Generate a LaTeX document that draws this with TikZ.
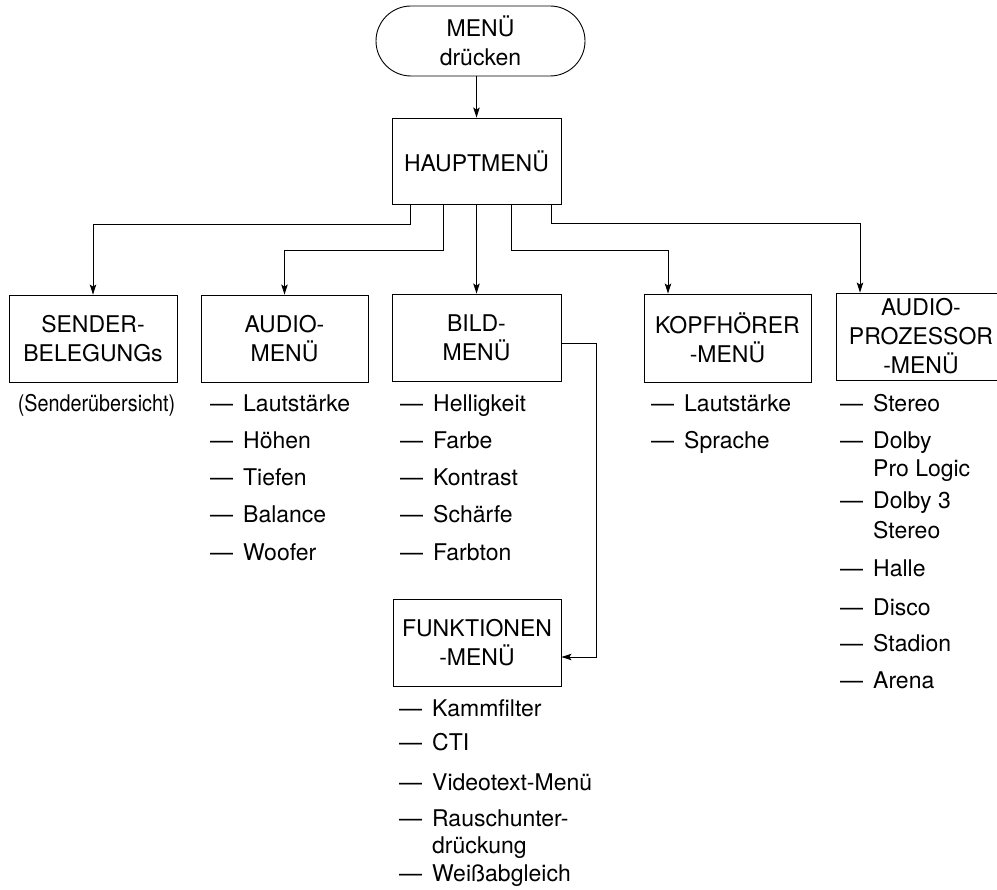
\documentclass[tikz,border=0pt]{standalone}
\usepackage{fontspec}
\usepackage{graphicx}
\setmainfont{TeX Gyre Heros}
\usetikzlibrary{arrows.meta,shapes.misc}
% one menu entry: dash, gap, text
\newcommand\dashitem{—\hspace{10pt}}
\begin{document}
\begin{tikzpicture}[x=1pt,y=-1pt,
  every node/.style={font=\fontsize{23}{29}\selectfont, inner sep=0pt},
  menubox/.style={draw, line width=0.9pt, align=center},
  entry/.style={anchor=base west},
  link/.style={draw, line width=0.9pt, -{Stealth[length=10pt,width=6.5pt,inset=2pt]}}]
\clip (0,0) rectangle (997,890);

% boxes
\node[menubox, rounded rectangle, minimum width=209pt, minimum height=70pt] (start) at (480.5,41) {MENÜ\\drücken};
\node[menubox, minimum width=169pt, minimum height=86pt] (haupt) at (476.5,161) {HAUPTMENÜ};
\node[menubox, minimum width=168pt, minimum height=87pt] (sender) at (93,338.5) {SENDER-\\BELEGUNGs};
\node[menubox, minimum width=167pt, minimum height=87pt] (audio) at (284.5,338.5) {AUDIO-\\MENÜ};
\node[menubox, minimum width=169pt, minimum height=87pt] (bild) at (476.5,337.5) {BILD-\\MENÜ};
\node[menubox, minimum width=167pt, minimum height=88pt] (kopf) at (727.5,338) {KOPFHÖRER\\-MENÜ};
\node[menubox, minimum width=170pt, minimum height=87pt] (proz) at (921,336.5) {AUDIO-\\PROZESSOR\\-MENÜ};
\node[menubox, minimum width=168pt, minimum height=87pt] (funk) at (477,642.5) {FUNKTIONEN\\-MENÜ};

% connectors
\draw[link] (start.south -| haupt.north) -- (haupt.north);
\draw[link] ([xshift=-66.5pt]haupt.south) -- ++(0,20) -| (sender.north);
\draw[link] ([xshift=-33.5pt]haupt.south) -- ++(0,46) -| (audio.north);
\draw[link] (haupt.south) -- (bild.north);
\draw[link] ([xshift=34.5pt]haupt.south) -- ++(0,46) -| ([xshift=-59.5pt]kopf.north);
\draw[link] ([xshift=74.5pt]haupt.south) -- ++(0,19) -| ([xshift=-61pt]proz.north);
\draw[link] ([yshift=-5.5pt]bild.east) -- ++(35,0) |- ([yshift=-14.5pt]funk.east);

% sender list
\node[anchor=base] (s1) at (96.5,411.5) {\scalebox{0.86}[1]{(Senderübersicht)}};

% audio menu
\node[entry] (a1) at (210,411.5) {\dashitem Lautstärke};
\node[entry] (a2) at (210,448.5) {\dashitem Höhen};
\node[entry] (a3) at (210,485.5) {\dashitem Tiefen};
\node[entry] (a4) at (210,522.5) {\dashitem Balance};
\node[entry] (a5) at (210,560.5) {\dashitem Woofer};

% picture menu
\node[entry] (b1) at (400,411.5) {\dashitem Helligkeit};
\node[entry] (b2) at (400,448.5) {\dashitem Farbe};
\node[entry] (b3) at (400,485.5) {\dashitem Kontrast};
\node[entry] (b4) at (400,522.5) {\dashitem Schärfe};
\node[entry] (b5) at (400,560.5) {\dashitem Farbton};

% headphone menu
\node[entry] (k1) at (651,411.5) {\dashitem Lautstärke};
\node[entry] (k2) at (651,448.5) {\dashitem Sprache};

% audio processor menu
\node[entry] (p1) at (840,411.5) {\dashitem Stereo};
\node[entry] (p2) at (840,448.5) {\dashitem Dolby};
\node[entry] (p2b) at (873,476.5) {Pro Logic};
\node[entry] (p3) at (840,508.5) {\dashitem Dolby 3};
\node[entry] (p3b) at (873,538.5) {Stereo};
\node[entry] (p4) at (840,576.5) {\dashitem Halle};
\node[entry] (p5) at (840,615.5) {\dashitem Disco};
\node[entry] (p6) at (840,651.5) {\dashitem Stadion};
\node[entry] (p7) at (840,688.5) {\dashitem Arena};

% functions menu
\node[entry] (f1) at (399,716.5) {\dashitem Kammfilter};
\node[entry] (f2) at (399,750.5) {\dashitem CTI};
\node[entry] (f3) at (399,790.5) {\dashitem Videotext-Menü};
\node[entry] (f4) at (399,826.5) {\dashitem Rauschunter-};
\node[entry] (f4b) at (432,853.5) {drückung};
\node[entry] (f5) at (399,881.5) {\dashitem Weißabgleich};
\end{tikzpicture}
\end{document}
